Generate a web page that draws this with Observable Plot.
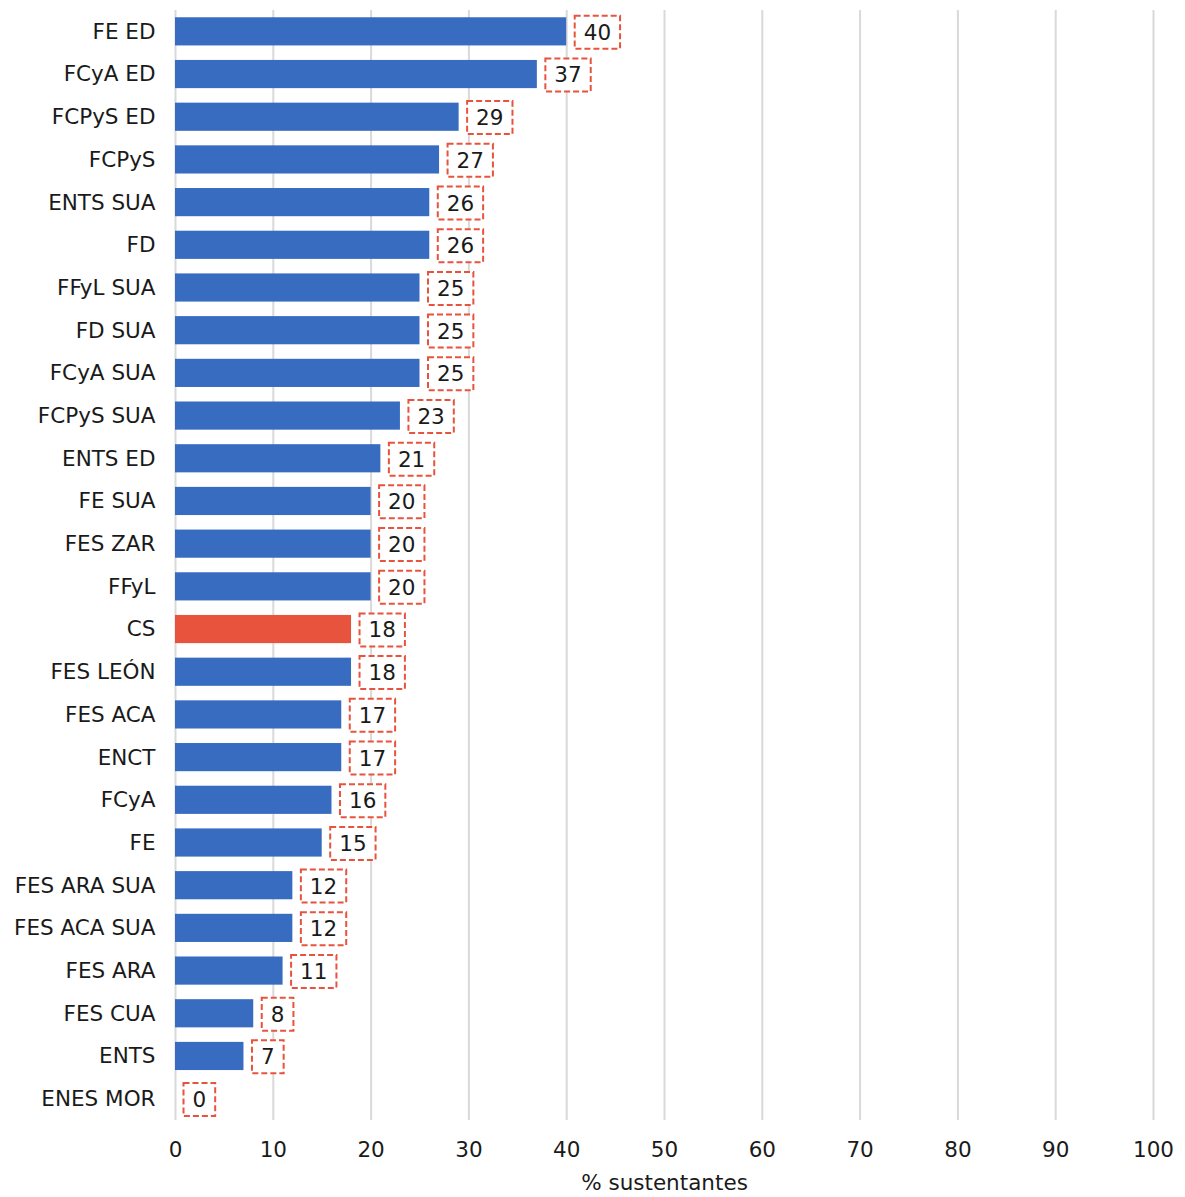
<!DOCTYPE html>
<html>
<head>
<meta charset="utf-8">
<script src="https://cdn.jsdelivr.net/npm/d3@7"></script>
<script src="https://cdn.jsdelivr.net/npm/@observablehq/plot@0.6"></script>
<style>
  html, body { margin: 0; padding: 0; background: #fff; }
  #chart svg { display: block; }
</style>
</head>
<body>
<div id="chart"></div>
<script>
const categories = ["FE ED","FCyA ED","FCPyS ED","FCPyS","ENTS SUA","FD","FFyL SUA","FD SUA","FCyA SUA","FCPyS SUA","ENTS ED","FE SUA","FES ZAR","FFyL","CS","FES LEÓN","FES ACA","ENCT","FCyA","FE","FES ARA SUA","FES ACA SUA","FES ARA","FES CUA","ENTS","ENES MOR"];
const values = [40,37,29,27,26,26,25,25,25,23,21,20,20,20,18,18,17,17,16,15,12,12,11,8,7,0];
const highlighted = ["CS"];
const xTicks = [0,10,20,30,40,50,60,70,80,90,100];
const xLabel = "% sustentantes";

const data = categories.map((c, i) => ({cat: c, value: values[i], hl: highlighted.includes(c)}));

const BLUE = "#386cc1";
const RED = "#e8533d";
const FONT = "DejaVu Sans, Verdana, sans-serif";
const FS = 21.5;

const chart = Plot.plot({
  width: 1185,
  height: 1197,
  marginLeft: 175,
  marginRight: 32,
  marginTop: 10,
  marginBottom: 77,
  style: {fontFamily: FONT, fontSize: FS + "px", color: "#1a1a1a", background: "#fff"},
  x: {domain: [0, 100], ticks: xTicks, label: null},
  y: {domain: categories, label: null, paddingInner: 0.34, paddingOuter: 0.17, round: false},
  marks: [
    Plot.ruleX(xTicks, {stroke: "#d9d9d9", strokeWidth: 2}),
    Plot.barX(data, {y: "cat", x: "value", fill: d => d.hl ? RED : BLUE}),
    Plot.text(data, {y: "cat", x: "value", text: d => String(d.value), textAnchor: "start", dx: 17, dy: 1, fill: "#1a1a1a", fontSize: FS, className: "vlabel"}),
    Plot.axisY({tickSize: 0, tickPadding: 20, label: null, fontSize: FS}),
    Plot.axisX({ticks: xTicks, tickSize: 0, tickPadding: 21, label: null, fontSize: FS}),
    Plot.text([xLabel], {frameAnchor: "bottom", dy: 69, text: d => d, fontSize: FS, fill: "#1a1a1a"})
  ]
});

document.getElementById("chart").appendChild(chart);

// draw dashed boxes around the value labels
const ns = "http://www.w3.org/2000/svg";
chart.querySelectorAll("g.vlabel text").forEach(t => {
  const b = t.getBBox();
  const ctm = t.getAttribute("transform");
  const r = document.createElementNS(ns, "rect");
  r.setAttribute("x", b.x - 9);
  r.setAttribute("y", b.y - 4);
  r.setAttribute("width", b.width + 18);
  r.setAttribute("height", b.height + 8);
  r.setAttribute("fill", "#fff");
  r.setAttribute("stroke", RED);
  r.setAttribute("stroke-width", 2);
  r.setAttribute("stroke-dasharray", "6,3");
  if (ctm) r.setAttribute("transform", ctm);
  t.parentNode.insertBefore(r, t);
});
</script>
</body>
</html>
